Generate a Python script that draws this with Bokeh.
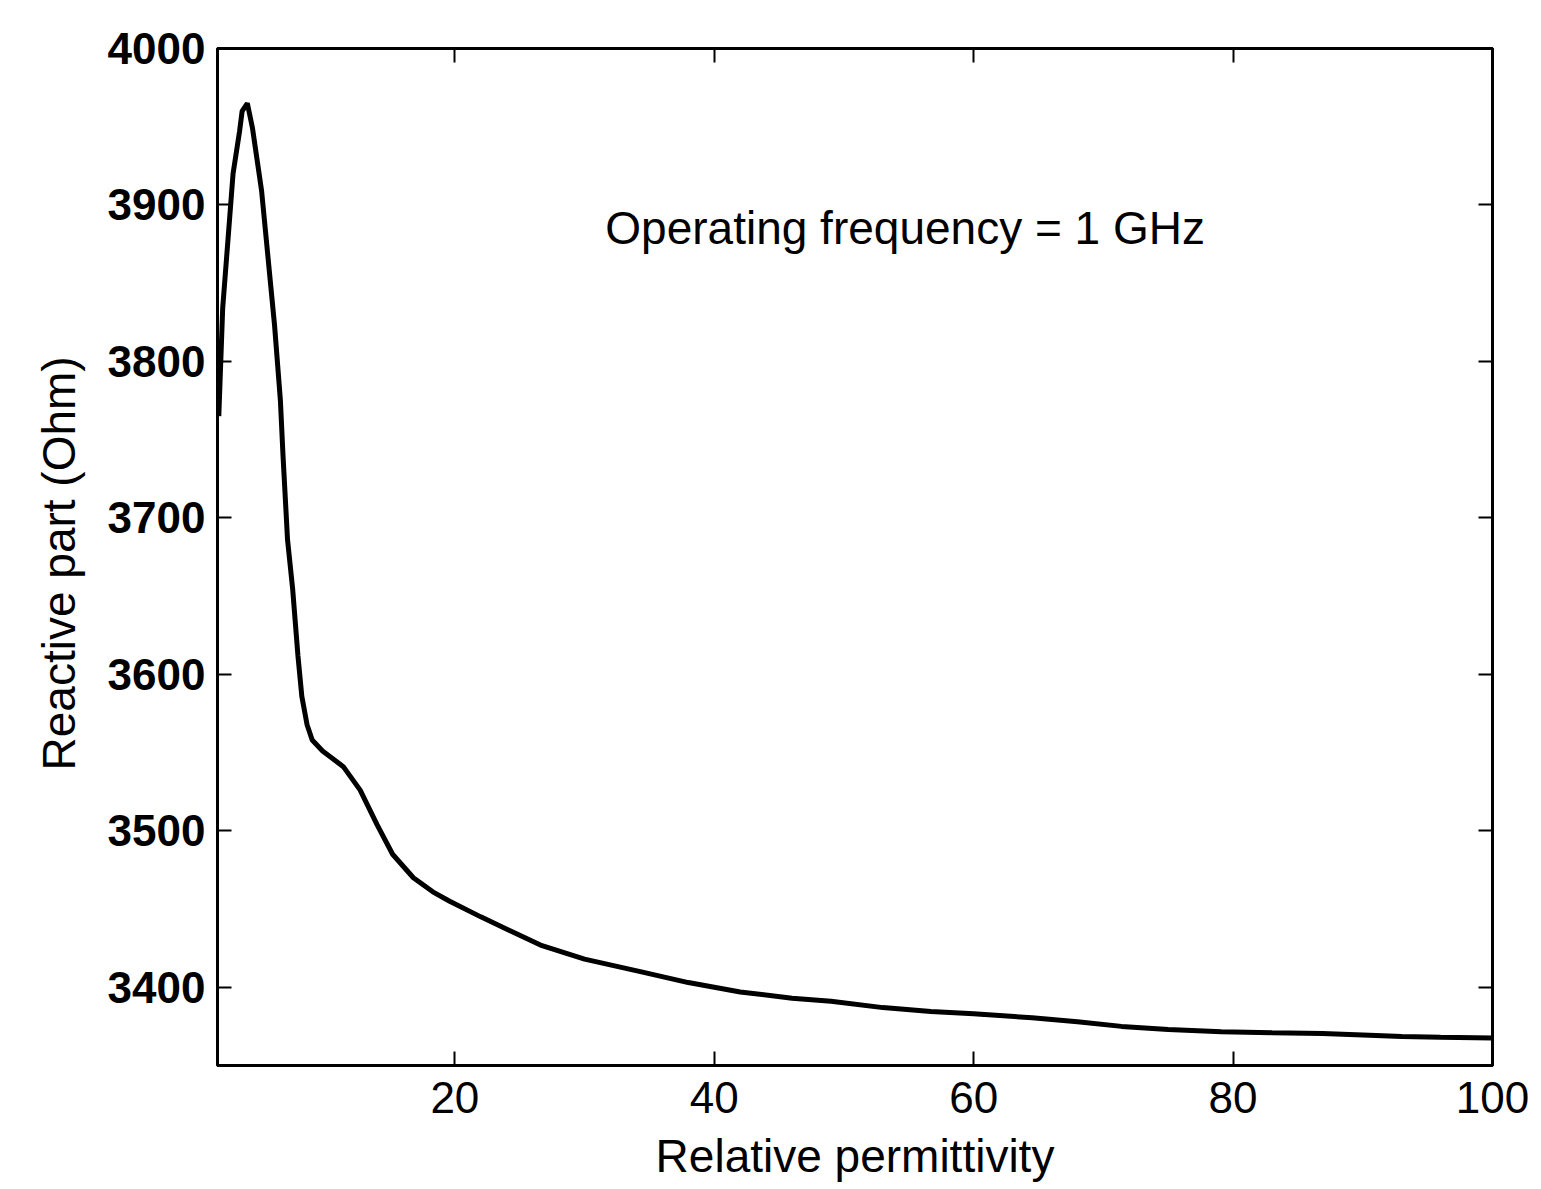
from bokeh.plotting import figure
from bokeh.models import LinearAxis, FixedTicker, Range1d, Label
from bokeh.embed import file_html
from bokeh.resources import INLINE

# Data
permittivity = [1.8, 2.1, 2.5, 2.9, 3.4, 3.6, 4.0, 4.4, 5.1, 5.6, 6.1, 6.55, 6.75,
                7.1, 7.5, 7.9, 8.2, 8.6, 9.0, 9.8, 11.4, 12.7, 14.0, 15.2, 16.8, 18.3,
                19.6, 22.0, 26.6, 30.0, 34.3, 38.0, 42.0, 46.0, 49.0, 53.0, 56.7,
                60.0, 64.5, 68.0, 71.4, 75.0, 79.1, 83.0, 86.9, 90.0, 93.0, 96.0, 100.0]
reactance = [3765, 3834, 3877, 3920, 3947, 3960, 3965, 3949, 3909, 3866, 3823, 3775, 3740,
             3686, 3654, 3612, 3586, 3568, 3558, 3551, 3541, 3526, 3504, 3485, 3470, 3461,
             3455, 3445, 3427, 3418, 3410, 3403, 3397, 3393, 3391, 3387, 3384.5,
             3383, 3380.5, 3378, 3375, 3373, 3371.6, 3371, 3370.5, 3369.5, 3368.5, 3368, 3367.5]
x_ticks = [20, 40, 60, 80, 100]
y_ticks = [3400, 3500, 3600, 3700, 3800, 3900, 4000]
annotation_text = "Operating frequency = 1 GHz"

W, H = 1533, 1186
p = figure(width=W, height=H, output_backend="svg", toolbar_location=None,
           x_range=Range1d(1.7, 100), y_range=Range1d(3350, 4000),
           min_border_left=217, min_border_top=48, min_border_right=41,
           min_border_bottom=121)
p.xgrid.visible = False
p.ygrid.visible = False
p.outline_line_color = "black"
p.outline_line_width = 3
p.background_fill_color = "white"
p.border_fill_color = "white"

p.line(permittivity, reactance, line_color="black", line_width=5)

FONT = "Liberation Sans"

xa = p.xaxis[0]
xa.ticker = FixedTicker(ticks=x_ticks)
xa.axis_label = "Relative permittivity"
ya = p.yaxis[0]
ya.ticker = FixedTicker(ticks=y_ticks)
ya.axis_label = "Reactive part  (Ohm)"

for ax in (xa, ya):
    ax.axis_line_width = 3
    ax.major_tick_in = 14
    ax.major_tick_out = 0
    ax.major_tick_line_width = 2
    ax.minor_tick_line_color = None
    ax.major_label_text_font = FONT
    ax.major_label_text_font_size = "44px"
    ax.major_label_text_color = "black"
    ax.axis_label_text_font = FONT
    ax.axis_label_text_font_size = "46px"
    ax.axis_label_text_font_style = "normal"
    ax.axis_label_text_color = "black"

ya.major_label_text_font_style = "bold"
ya.major_label_standoff = 12
ya.axis_label_standoff = 20
xa.major_label_standoff = 16
xa.axis_label_standoff = 14

for loc, ticks in (("above", x_ticks), ("right", y_ticks)):
    ax = LinearAxis(ticker=FixedTicker(ticks=ticks))
    ax.axis_line_width = 3
    ax.major_tick_in = 14
    ax.major_tick_out = 0
    ax.major_tick_line_width = 2
    ax.minor_tick_line_color = None
    ax.major_label_text_font_size = "0px"
    ax.major_label_text_alpha = 0
    p.add_layout(ax, loc)

p.add_layout(Label(x=31.6, y=3885, text=annotation_text, text_font=FONT,
                   text_font_size="46px", text_baseline="middle", text_align="left",
                   text_color="black"))

open("out.html", "w").write(file_html(p, INLINE))
